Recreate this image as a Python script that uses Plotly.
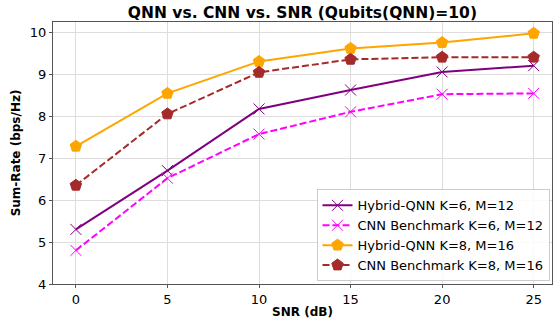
import plotly.graph_objects as go

snr = [0, 5, 10, 15, 20, 25]
hyb_k6 = [5.30, 6.70, 8.17, 8.62, 9.05, 9.20]
cnn_k6 = [4.80, 6.52, 7.57, 8.10, 8.52, 8.54]
hyb_k8 = [7.28, 8.54, 9.30, 9.61, 9.75, 9.97]
cnn_k8 = [6.35, 8.05, 9.04, 9.35, 9.40, 9.40]
names = ["Hybrid-QNN K=6, M=12", "CNN Benchmark K=6, M=12",
         "Hybrid-QNN K=8, M=16", "CNN Benchmark K=8, M=16"]

fig = go.Figure()
styles = [
    (hyb_k6, "purple", "solid", "x-thin", 11),
    (cnn_k6, "magenta", "7px,3px", "x-thin", 11),
    (hyb_k8, "orange", "solid", "pentagon", 12),
    (cnn_k8, "brown", "7px,3px", "pentagon", 12),
]
for (vals, col, dash, sym, sz), nm in zip(styles, names):
    fig.add_trace(go.Scatter(
        x=snr, y=vals, name=nm, mode="lines+markers",
        line=dict(color=col, width=2, dash=dash),
        marker=dict(symbol=sym, size=sz, color=col, line=dict(color=col, width=1)),
    ))

fig.update_layout(
    width=560, height=322,
    margin=dict(l=53, r=8, t=22, b=38),
    paper_bgcolor="white", plot_bgcolor="white",
    font=dict(family="DejaVu Sans", size=13, color="black"),
    title=dict(text="<b>QNN vs. CNN vs. SNR (Qubits(QNN)=10)</b>", x=0.54, xanchor="center",
               y=1 - 13 / 322, yanchor="middle", font=dict(size=15.5)),
    xaxis=dict(title=dict(text="<b>SNR (dB)</b>", standoff=2, font=dict(size=12)),
               range=[-1.25, 26.0], tickvals=snr, showgrid=True, gridcolor="#dddddd",
               zeroline=False, showline=True, linecolor="#555555", mirror=True,
               ticks="outside", ticklen=3, tickcolor="#555555", automargin=False,
               tickfont=dict(size=13)),
    yaxis=dict(title=dict(text="<b>Sum-Rate (bps/Hz)</b>", standoff=6, font=dict(size=12)),
               range=[4, 10.24], tickvals=[4, 5, 6, 7, 8, 9, 10], showgrid=True,
               gridcolor="#dddddd", zeroline=False, showline=True, linecolor="#555555",
               mirror=True, ticks="outside", ticklen=3, tickcolor="#555555",
               automargin=False, tickfont=dict(size=13)),
    legend=dict(x=0.995, y=0.01, xanchor="right", yanchor="bottom",
                bgcolor="rgba(255,255,255,0.85)", bordercolor="#cccccc", borderwidth=1,
                font=dict(size=13), tracegroupgap=0, itemwidth=30),
)

fig.write_html("out.html", config={"displayModeBar": False},
               post_script="document.body.style.margin='0px';document.body.style.overflow='hidden';")
